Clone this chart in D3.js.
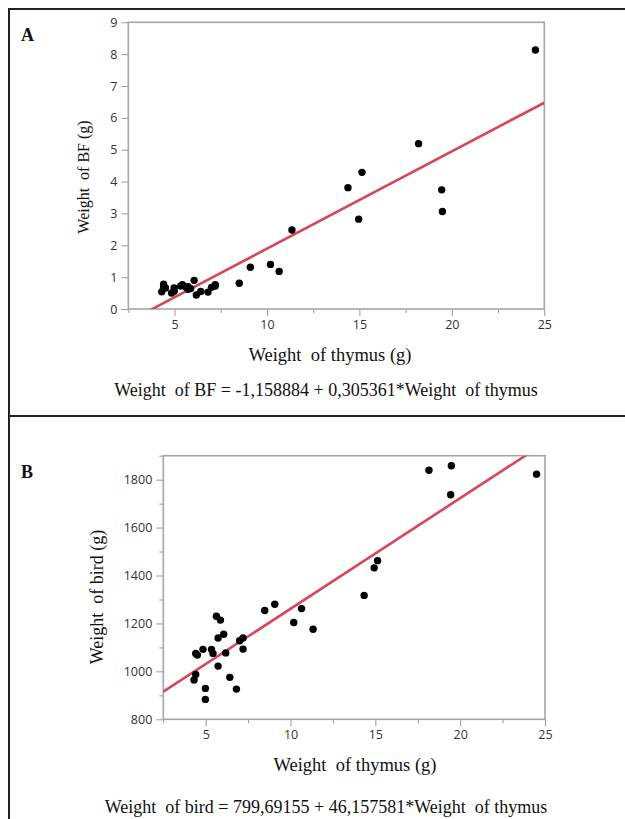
<!DOCTYPE html>
<html>
<head>
<meta charset="utf-8">
<script src="https://cdn.jsdelivr.net/npm/d3@7"></script>
<style>
html,body{margin:0;padding:0;background:#fff;}
svg{display:block;}
</style>
</head>
<body>
<svg id="chart" width="625" height="819"></svg>
<script>
// ---- data ----
const thymusA = [4.31,4.41,4.41,4.51,4.84,4.98,4.98,5.34,5.43,5.63,5.73,5.73,5.87,6.06,6.18,6.42,6.81,7.0,7.2,7.2,
                 8.5,9.1,10.19,10.66,11.35,14.38,14.96,15.14,18.2,19.45,19.49,24.52];
const bfA     = [0.54,0.78,0.70,0.66,0.50,0.66,0.56,0.72,0.76,0.68,0.62,0.70,0.64,0.90,0.44,0.55,0.53,0.68,0.76,0.72,
                 0.81,1.31,1.40,1.18,2.48,3.81,2.82,4.29,5.19,3.74,3.06,8.13];
const thymusB = [5.63,5.87,6.06,5.73,4.84,4.41,4.51,5.34,5.43,6.18,5.73,4.41,4.31,4.98,4.98,6.42,6.81,7.0,7.2,7.2,
                 8.48,9.07,10.19,10.65,11.33,14.34,14.93,15.13,18.16,19.48,19.44,24.5];
const birdB   = [1230,1214,1155,1139,1092,1075,1068,1092,1075,1077,1022,987,964,929,883,975,926,1128,1139,1093,
                 1254,1280,1204,1262,1176,1317,1432,1462,1839,1858,1737,1823];
const xTicks = [5,10,15,20,25];
const xMinor = [2.5,7.5,12.5,17.5,22.5];
const yTicksA = [0,1,2,3,4,5,6,7,8,9];
const yTicksB = [800,1000,1200,1400,1600,1800];
const yMinorB = [900,1100,1300,1500,1700,1900];
const fitA = {a:-1.158884, b:0.305361};
const fitB = {a:799.69155, b:46.157581};
const eqA = "Weight\u00a0 of BF = -1,158884 + 0,305361*Weight\u00a0 of thymus";
const eqB = "Weight\u00a0 of bird = 799,69155 + 46,157581*Weight\u00a0 of thymus";

const svg = d3.select("#chart");
const SERIF = "'Liberation Serif','Times New Roman',serif";
const SANS = "'Open Sans','DejaVu Sans',sans-serif";

// outer frame
svg.append("line").attr("x1",9).attr("x2",625).attr("y1",9).attr("y2",9).attr("stroke","#222").attr("stroke-width",2);
svg.append("line").attr("x1",9).attr("x2",9).attr("y1",8).attr("y2",819).attr("stroke","#222").attr("stroke-width",2);
svg.append("line").attr("x1",9).attr("x2",625).attr("y1",416).attr("y2",416).attr("stroke","#222").attr("stroke-width",2);

function panel(cfg){
  const x = d3.scaleLinear().domain([2.5,25]).range([cfg.x0,cfg.x1]);
  const y = d3.scaleLinear().domain(cfg.ydom).range([cfg.y0,cfg.y1]);
  const g = svg.append("g");
  const clipId = "clip"+cfg.id;
  svg.append("clipPath").attr("id",clipId).append("rect")
    .attr("x",cfg.x0).attr("y",cfg.y1).attr("width",cfg.x1-cfg.x0).attr("height",cfg.y0-cfg.y1);

  const ax = g.append("g").attr("transform",`translate(0,${cfg.y0})`)
    .call(d3.axisBottom(x).tickValues(xTicks).tickSize(7).tickPadding(4).tickFormat(d3.format("d")));
  const axm = g.append("g").attr("transform",`translate(0,${cfg.y0})`)
    .call(d3.axisBottom(x).tickValues(xMinor).tickSize(4).tickFormat(""));
  const ay = g.append("g").attr("transform",`translate(${cfg.x0},0)`)
    .call(d3.axisLeft(y).tickValues(cfg.yticks).tickSize(7).tickPadding(4).tickFormat(d3.format("d")));
  let aym = null;
  if(cfg.yminor){
    aym = g.append("g").attr("transform",`translate(${cfg.x0},0)`)
      .call(d3.axisLeft(y).tickValues(cfg.yminor).tickSize(4).tickFormat(""));
  }
  [ax,axm,ay,aym].forEach(a=>{
    if(!a) return;
    a.select(".domain").remove();
    a.selectAll(".tick line").attr("stroke","#999").attr("stroke-width",1);
    a.selectAll(".tick text").attr("fill","#333").style("font-family",SANS).style("font-size","12.5px");
  });
  g.append("rect").attr("x",cfg.x0).attr("y",cfg.y1).attr("width",cfg.x1-cfg.x0).attr("height",cfg.y0-cfg.y1)
    .attr("fill","none").attr("stroke","#a6a6a6").attr("stroke-width",1.6);

  const xs = x.domain();
  g.append("line").attr("clip-path",`url(#${clipId})`)
    .attr("x1",x(xs[0])).attr("y1",y(cfg.fit.a+cfg.fit.b*xs[0]))
    .attr("x2",x(xs[1])).attr("y2",y(cfg.fit.a+cfg.fit.b*xs[1]))
    .attr("stroke","#d4485a").attr("stroke-width",2.6);

  g.selectAll("circle.pt").data(cfg.xv.map((v,i)=>[v,cfg.yv[i]])).enter().append("circle")
    .attr("class","pt").attr("cx",d=>x(d[0])).attr("cy",d=>y(d[1])).attr("r",3.7).attr("fill","#000");

  svg.append("text").attr("x",cfg.letterX).attr("y",cfg.letterY).text(cfg.letter)
    .style("font-family",SERIF).style("font-weight","bold").style("font-size","18px").attr("fill","#111");
  svg.append("text").attr("transform",`translate(${cfg.ytX},${cfg.ytY}) rotate(-90)`).attr("text-anchor","middle")
    .style("white-space","pre").text(cfg.ytitle).style("font-family",SERIF).style("font-size",cfg.ytSize).attr("fill","#111");
  svg.append("text").attr("x",cfg.xtX).attr("y",cfg.xtY).attr("text-anchor","middle")
    .style("white-space","pre").text(cfg.xtitle).style("font-family",SERIF).style("font-size","18.5px").attr("fill","#111");
  svg.append("text").attr("x",cfg.eqX).attr("y",cfg.eqY).attr("text-anchor","middle")
    .style("white-space","pre").text(cfg.eq).style("font-family",SERIF).style("font-size","18px").attr("fill","#111");
}

panel({id:"A", x0:128.3, x1:544.3, y0:309, y1:22.3, ydom:[0,9], yticks:yTicksA, yminor:null,
  xv:thymusA, yv:bfA, fit:fitA, letter:"A", letterX:21, letterY:41,
  ytitle:"Weight\u00a0 of BF (g)", ytSize:"16px", ytX:89, ytY:177,
  xtitle:"Weight\u00a0 of thymus (g)", xtX:330, xtY:361, eq:eqA, eqX:326, eqY:396});

panel({id:"B", x0:163.3, x1:545, y0:719.3, y1:455.7, ydom:[800,1900], yticks:yTicksB, yminor:yMinorB,
  xv:thymusB, yv:birdB, fit:fitB, letter:"B", letterX:21, letterY:478,
  ytitle:"Weight\u00a0 of bird (g)", ytSize:"18px", ytX:103, ytY:597,
  xtitle:"Weight\u00a0 of thymus (g)", xtX:355, xtY:771, eq:eqB, eqX:326, eqY:813});
</script>
</body>
</html>
